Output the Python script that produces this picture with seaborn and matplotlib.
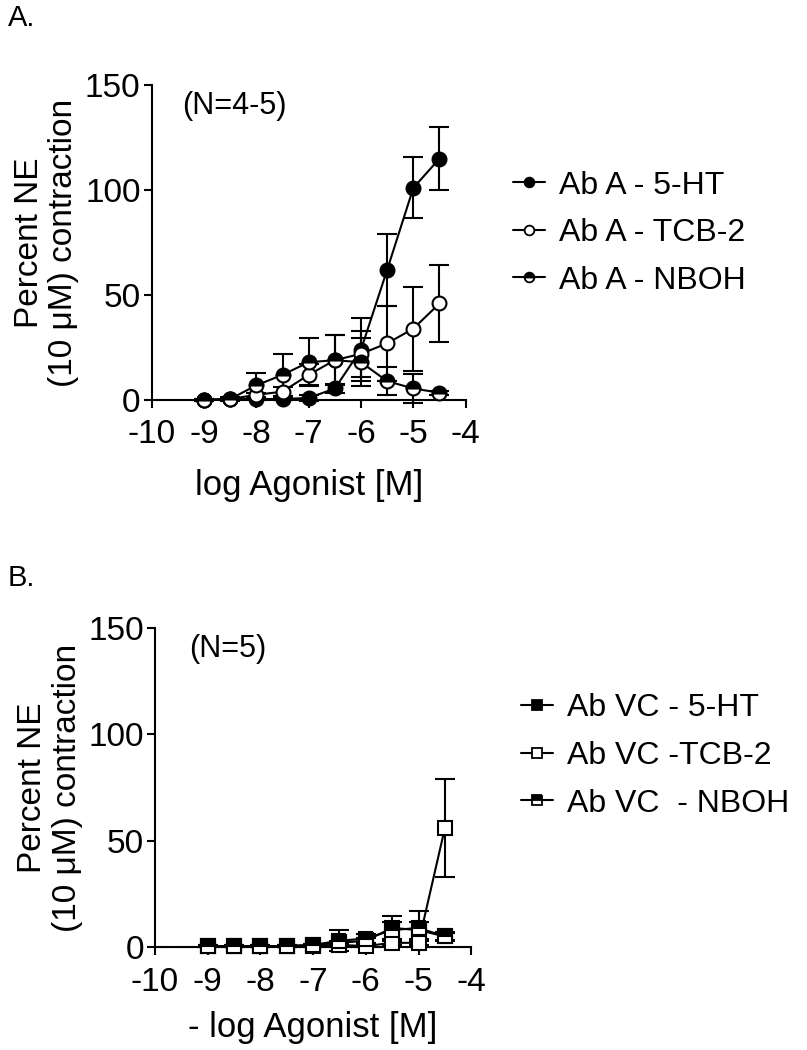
import seaborn as sns
import matplotlib.pyplot as plt
import pandas as pd
import numpy as np

sns.set_theme(style="ticks")
plt.rcParams['font.family'] = ['Liberation Sans', 'DejaVu Sans']
plt.rcParams['axes.unicode_minus'] = False
plt.rcParams['text.color'] = 'black'
plt.rcParams['axes.labelcolor'] = 'black'

# Data
log_conc = [-9, -8.5, -8, -7.5, -7, -6.5, -6, -5.5, -5, -4.5]

a_labels = ["Ab A - 5-HT", "Ab A - TCB-2", "Ab A - NBOH"]
a_5ht = [0, 0.5, 0.5, 0.5, 1, 5.5, 24, 62, 101, 115]
a_5ht_sem = [0.5, 0.5, 0.5, 0.5, 1.5, 2, 15, 17, 14.5, 15]
a_tcb = [0, 0.5, 2.5, 4, 12, 19, 22, 27, 34, 46]
a_tcb_sem = [0.5, 0.5, 1, 2, 5, 12, 11, 18, 20, 18.5]
a_nboh = [0, 0.5, 7, 12, 18, 19, 18, 9, 5.5, 3.5]
a_nboh_sem = [0.5, 1, 6, 10, 11.5, 12, 11.5, 6.5, 7, 1]

b_labels = ["Ab VC - 5-HT", "Ab VC -TCB-2", "Ab VC  - NBOH"]
b_5ht = [0.5, 0.5, 0.5, 0.5, 1, 2, 3, 9, 8, 5]
b_5ht_sem = [0.3, 0.3, 0.3, 0.3, 0.5, 1, 1.5, 5.5, 4, 1.5]
b_tcb = [0.3, 0.3, 0.3, 0.3, 0.5, 1, 0.5, 2, 2, 56]
b_tcb_sem = [0.2, 0.2, 0.2, 0.2, 0.3, 0.5, 0.5, 1, 1, 23]
b_nboh = [0.5, 0.5, 0.5, 0.5, 1, 3, 4, 8, 9, 5]
b_nboh_sem = [0.3, 0.3, 0.3, 0.3, 0.5, 5, 2, 4, 8, 2]

fig = plt.figure(figsize=(8.07, 10.5), dpi=100)
ax_a = fig.add_axes([0.188, 0.619, 0.389, 0.300])
ax_b = fig.add_axes([0.192, 0.098, 0.392, 0.304])

styles_a = [
    dict(marker="o", markerfacecolor="black", fillstyle="full"),
    dict(marker="o", markerfacecolor="white", fillstyle="full"),
    dict(marker="o", markerfacecolor="black", markerfacecoloralt="white", fillstyle="top"),
]
styles_b = [
    dict(marker="s", markerfacecolor="black", fillstyle="full"),
    dict(marker="s", markerfacecolor="white", fillstyle="full"),
    dict(marker="s", markerfacecolor="black", markerfacecoloralt="white", fillstyle="top"),
]


def draw_panel(ax, labels, series, sems, styles, order):
    handles = []
    for i in order:
        df = pd.DataFrame({"x": log_conc, "y": series[i]})
        ax.errorbar(log_conc, series[i], yerr=sems[i], fmt="none", ecolor="black",
                    elinewidth=1.5, capsize=7, capthick=1.5, zorder=2 + i)
        sns.lineplot(data=df, x="x", y="y", ax=ax, color="black", linewidth=1.5,
                     markersize=10, markeredgecolor="black", markeredgewidth=1.5,
                     zorder=3 + i, label=labels[i], legend=False, **styles[i])
    for i in range(3):
        h, = ax.plot([], [], color="black", linewidth=1.5, markersize=7,
                     markeredgecolor="black", markeredgewidth=1.3, **styles[i])
        handles.append(h)
    ax.set_xlim(-10, -4)
    ax.set_ylim(0, 150)
    ax.set_xticks(np.arange(-10, -3, 1))
    ax.set_yticks([0, 50, 100, 150])
    for s in ["top", "right"]:
        ax.spines[s].set_visible(False)
    for s in ["left", "bottom"]:
        ax.spines[s].set_linewidth(1.5)
        ax.spines[s].set_color("black")
    ax.tick_params(direction="out", length=6, width=1.5, labelsize=24, colors="black")
    ax.tick_params(axis="y", pad=2)
    ax.tick_params(axis="x", pad=8)
    ax.set_ylabel("Percent NE\n(10 μM) contraction", fontsize=24, linespacing=1.15, labelpad=4)
    for line in ax.lines:
        line.set_clip_on(False)
    for c in ax.collections:
        c.set_clip_on(False)
    return handles


h_a = draw_panel(ax_a, a_labels, [a_5ht, a_tcb, a_nboh], [a_5ht_sem, a_tcb_sem, a_nboh_sem],
                 styles_a, [2, 1, 0])
ax_a.set_xlabel("log Agonist [M]", fontsize=25, labelpad=13)
ax_a.text(-9.42, 140, "(N=4-5)", fontsize=22, va="center")
fig.legend(h_a, a_labels, loc="upper left", bbox_to_anchor=(0.6, 0.865), frameon=False,
           fontsize=23, handlelength=1.0, handletextpad=0.45, labelspacing=0.55)

h_b = draw_panel(ax_b, b_labels, [b_5ht, b_tcb, b_nboh], [b_5ht_sem, b_tcb_sem, b_nboh_sem],
                 styles_b, [2, 0, 1])
ax_b.axhline(0, color="gray", linewidth=1, linestyle=":", zorder=1, clip_on=False)
ax_b.set_xlabel("- log Agonist [M]", fontsize=25, labelpad=10)
ax_b.text(-9.35, 140, "(N=5)", fontsize=22, va="center")
fig.legend(h_b, b_labels, loc="upper left", bbox_to_anchor=(0.61, 0.367), frameon=False,
           fontsize=23, handlelength=1.0, handletextpad=0.45, labelspacing=0.55)

fig.text(0.01, 0.983, "A.", fontsize=21, va="center")
fig.text(0.01, 0.45, "B.", fontsize=21, va="center")

fig.savefig("out.png", dpi=100, facecolor="white")
